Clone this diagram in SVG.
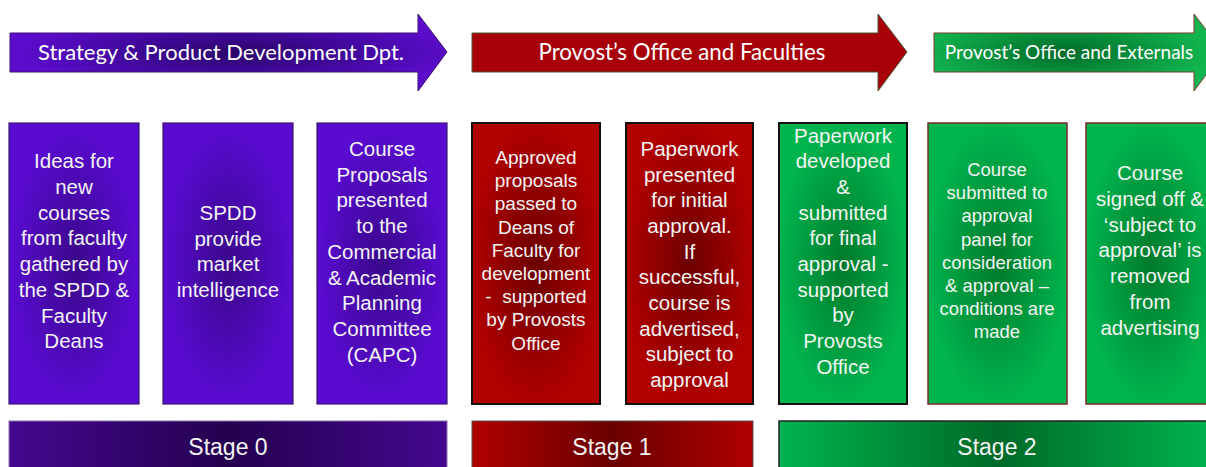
<svg xmlns="http://www.w3.org/2000/svg" width="1206" height="467" viewBox="0 0 1206 467">
<defs>
<radialGradient id="gPurple" cx="0.5" cy="0.5" r="0.5">
<stop offset="0" stop-color="#3a078a"/>
<stop offset="1" stop-color="#5a0bd2"/>
</radialGradient>
<radialGradient id="gRed" cx="0.5" cy="0.5" r="0.5">
<stop offset="0" stop-color="#6c0000"/>
<stop offset="1" stop-color="#b00000"/>
</radialGradient>
<radialGradient id="gGreen" cx="0.5" cy="0.5" r="0.5">
<stop offset="0" stop-color="#007a2c"/>
<stop offset="1" stop-color="#00b44e"/>
</radialGradient>
<radialGradient id="aPurple" cx="0.52" cy="0.5" r="0.5">
<stop offset="0" stop-color="#2c0568"/>
<stop offset="0.5" stop-color="#40089a"/>
<stop offset="1" stop-color="#5c0ccc"/>
</radialGradient>
<radialGradient id="aGreen" cx="0.45" cy="0.5" r="0.5">
<stop offset="0" stop-color="#006a28"/>
<stop offset="1" stop-color="#12b550"/>
</radialGradient>
<linearGradient id="sPurple" x1="0" y1="0" x2="1" y2="0">
<stop offset="0" stop-color="#43088f"/>
<stop offset="0.5" stop-color="#25004f"/>
<stop offset="1" stop-color="#43088f"/>
</linearGradient>
<linearGradient id="sRed" x1="0" y1="0" x2="1" y2="0">
<stop offset="0" stop-color="#b00000"/>
<stop offset="0.5" stop-color="#6a0000"/>
<stop offset="1" stop-color="#b00000"/>
</linearGradient>
<linearGradient id="sGreen" x1="0" y1="0" x2="1" y2="0">
<stop offset="0" stop-color="#00b450"/>
<stop offset="0.5" stop-color="#006a28"/>
<stop offset="1" stop-color="#00b450"/>
</linearGradient>
</defs>
<style>
.t{font-family:"Liberation Sans",Arial,sans-serif;fill:#f4f4f4;text-anchor:middle}
.b{font-size:20.5px}
.s{font-size:19px}
.s2{font-size:18.5px}
.h{font-family:Lato,"Liberation Sans",sans-serif;fill:#ffffff;text-anchor:middle}
.stg{font-size:23px}
.pb{fill:url(#gPurple);stroke:#3a1a70;stroke-width:1.2}
.rb{fill:url(#gRed);stroke:#111;stroke-width:2}
.gb{fill:url(#gGreen);stroke:#111;stroke-width:2}
.gb2{fill:url(#gGreen);stroke:#7a2a2a;stroke-width:1.5}
</style>

<g id="arrow-spdd">
<polygon points="10,33 418,33 418,14 447,52 418,91 418,72 10,72" fill="url(#aPurple)" stroke="#3a1070" stroke-width="1"/>
<text class="h" x="221" y="60" font-size="22">Strategy &amp; Product Development Dpt.</text>
</g>
<g id="arrow-provost-faculties">
<polygon points="472,33 878,33 878,14 907,52 878,91 878,72 472,72" fill="#a80008" stroke="#4a5a3a" stroke-width="1"/>
<text class="h" x="682" y="60" font-size="22.3">Provost’s Office and Faculties</text>
</g>
<g id="arrow-provost-externals">
<polygon points="934,33 1194,33 1194,14 1223,52 1194,91 1194,72 934,72" fill="url(#aGreen)" stroke="#7a3a2a" stroke-width="1"/>
<text class="h" x="1069" y="59" font-size="19">Provost’s Office and Externals</text>
</g>

<g id="box1">
<rect class="pb" x="9" y="123" width="130" height="281"/>
<text class="t b" x="74" y="168"><tspan x="74">Ideas for</tspan><tspan x="74" dy="25.76">new</tspan><tspan x="74" dy="25.76">courses</tspan><tspan x="74" dy="25.76">from faculty</tspan><tspan x="74" dy="25.76">gathered by</tspan><tspan x="74" dy="25.76">the SPDD &amp;</tspan><tspan x="74" dy="25.76">Faculty</tspan><tspan x="74" dy="25.76">Deans</tspan></text>
</g>
<g id="box2">
<rect class="pb" x="163" y="123" width="130" height="281"/>
<text class="t b" x="228" y="220"><tspan x="228">SPDD</tspan><tspan x="228" dy="25.6">provide</tspan><tspan x="228" dy="25.6">market</tspan><tspan x="228" dy="25.6">intelligence</tspan></text>
</g>
<g id="box3">
<rect class="pb" x="317" y="123" width="130" height="281"/>
<text class="t b" x="382" y="156"><tspan x="382">Course</tspan><tspan x="382" dy="25.7">Proposals</tspan><tspan x="382" dy="25.7">presented</tspan><tspan x="382" dy="25.7">to the</tspan><tspan x="382" dy="25.7">Commercial</tspan><tspan x="382" dy="25.7">&amp; Academic</tspan><tspan x="382" dy="25.7">Planning</tspan><tspan x="382" dy="25.7">Committee</tspan><tspan x="382" dy="25.7">(CAPC)</tspan></text>
</g>
<g id="box4">
<rect class="rb" x="472" y="123" width="128" height="281"/>
<text class="t s" x="536" y="164"><tspan x="536">Approved</tspan><tspan x="536" dy="23.2">proposals</tspan><tspan x="536" dy="23.2">passed to</tspan><tspan x="536" dy="23.2">Deans of</tspan><tspan x="536" dy="23.2">Faculty for</tspan><tspan x="536" dy="23.2">development</tspan><tspan x="536" dy="23.2" style="white-space:pre">-  supported</tspan><tspan x="536" dy="23.2">by Provosts</tspan><tspan x="536" dy="23.2">Office</tspan></text>
</g>
<g id="box5">
<rect class="rb" x="626" y="123" width="127" height="281"/>
<text class="t b" x="689.5" y="156"><tspan x="689.5">Paperwork</tspan><tspan x="689.5" dy="25.67">presented</tspan><tspan x="689.5" dy="25.67">for initial</tspan><tspan x="689.5" dy="25.67">approval.</tspan><tspan x="689.5" dy="25.67">If</tspan><tspan x="689.5" dy="25.67">successful,</tspan><tspan x="689.5" dy="25.67">course is</tspan><tspan x="689.5" dy="25.67">advertised,</tspan><tspan x="689.5" dy="25.67">subject to</tspan><tspan x="689.5" dy="25.67">approval</tspan></text>
</g>
<g id="box6">
<rect class="gb" x="779" y="123" width="128" height="281"/>
<text class="t b" x="843" y="142.5"><tspan x="843">Paperwork</tspan><tspan x="843" dy="25.67">developed</tspan><tspan x="843" dy="25.67">&amp;</tspan><tspan x="843" dy="25.67">submitted</tspan><tspan x="843" dy="25.67">for final</tspan><tspan x="843" dy="25.67">approval -</tspan><tspan x="843" dy="25.67">supported</tspan><tspan x="843" dy="25.67">by</tspan><tspan x="843" dy="25.67">Provosts</tspan><tspan x="843" dy="25.67">Office</tspan></text>
</g>
<g id="box7">
<rect class="gb2" x="928" y="123" width="139" height="281"/>
<text class="t s2" x="997" y="176"><tspan x="997">Course</tspan><tspan x="997" dy="23.2">submitted to</tspan><tspan x="997" dy="23.2">approval</tspan><tspan x="997" dy="23.2">panel for</tspan><tspan x="997" dy="23.2">consideration</tspan><tspan x="997" dy="23.2">&amp; approval –</tspan><tspan x="997" dy="23.2">conditions are</tspan><tspan x="997" dy="23.2">made</tspan></text>
</g>
<g id="box8">
<rect class="gb2" x="1086" y="123" width="130" height="281"/>
<text class="t b" x="1150" y="180"><tspan x="1150">Course</tspan><tspan x="1150" dy="25.8">signed off &amp;</tspan><tspan x="1150" dy="25.8">‘subject to</tspan><tspan x="1150" dy="25.8">approval’ is</tspan><tspan x="1150" dy="25.8">removed</tspan><tspan x="1150" dy="25.8">from</tspan><tspan x="1150" dy="25.8">advertising</tspan></text>
</g>

<g id="stage0">
<rect x="9" y="421" width="438" height="50" fill="url(#sPurple)" stroke="#8a70b0" stroke-width="1"/>
<text class="t stg" x="228" y="455">Stage 0</text>
</g>
<g id="stage1">
<rect x="472" y="421" width="281" height="50" fill="url(#sRed)" stroke="#555" stroke-width="1"/>
<text class="t stg" x="612" y="455">Stage 1</text>
</g>
<g id="stage2">
<rect x="779" y="421" width="436" height="50" fill="url(#sGreen)" stroke="#222" stroke-width="1.5"/>
<text class="t stg" x="997" y="455">Stage 2</text>
</g>

<g id="connectors"></g>
</svg>
